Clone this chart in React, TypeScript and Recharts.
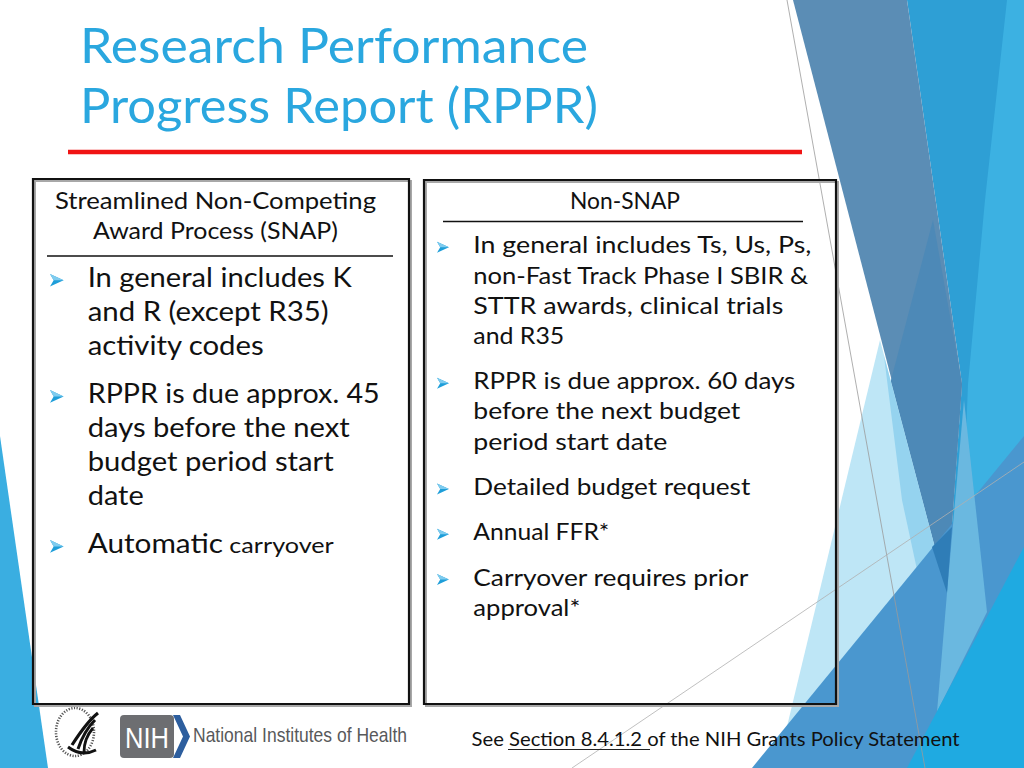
import React from "react";
import { ComposedChart, XAxis, YAxis, ReferenceArea, ReferenceLine, Customized } from "recharts";

// slide text
const TITLE = ["Research Performance", "Progress Report (RPPR)"];
const SNAP_HEAD = ["Streamlined Non-Competing", "Award Process (SNAP)"];
const SNAP_ITEMS = [
  ["In general includes K", "and R (except R35)", "activity codes"],
  ["RPPR is due approx. 45", "days before the next", "budget period start", "date"],
  ["Automatic carryover"],
];
const NON_SNAP_HEAD = ["Non-SNAP"];
const NON_SNAP_ITEMS = [
  ["In general includes Ts, Us, Ps,", "non-Fast Track Phase I SBIR &", "STTR awards, clinical trials", "and R35"],
  ["RPPR is due approx. 60 days", "before the next budget", "period start date"],
  ["Detailed budget request"],
  ["Annual FFR*"],
  ["Carryover requires prior", "approval*"],
];
const FOOTER = ["See ", "Section 8.4.1.2 ", "of the NIH Grants Policy Statement"];
const NIH_NAME = "National Institutes of Health";

// layout (px on the 1024x768 slide)
const W = 1024;
const H = 768;
const FONT = "Lato, 'Open Sans', sans-serif";
const BLUE = "#2AA7DF";
const TITLE_W = [508, 518];
const SNAP_HEAD_W = [321, 245];
const SNAP_W = [[264, 241, 176], [292, 262, 246, 56], [246]];
const NON_W = [[338, 335, 310, 91], [322, 267, 194], [277], [136], [275, 107]];

const poly = (pts: number[][]) => pts.map((p) => p.join(",")).join(" ");

function Decor() {
  return (
    <g>
      <polygon points={poly([[0, 436], [48, 768], [0, 768]])} fill="#3AAEE1" />
      <polygon points={poly([[907, 0], [1024, 0], [1024, 768], [900, 768], [947, 593], [962, 384]])} fill="#2E9FD5" />
      <polygon points={poly([[1007, 0], [1024, 0], [1024, 768], [940, 768], [962, 540], [968, 384], [985, 200]])} fill="#3CB1E2" />
      <polygon points={poly([[793, 0], [907, 0], [962, 384], [947, 593]])} fill="#5B8DB5" />
      <polygon points={poly([[933, 220], [962, 384], [947, 593], [890, 384]])} fill="#4D89B7" />
      <polygon points={poly([[880, 340], [947, 593], [930, 768], [777, 768]])} fill="#BEE6F6" />
      <polygon points={poly([[884, 356], [947, 593], [930, 630], [902, 500]])} fill="#95D3EF" />
      <polygon points={poly([[752, 768], [1024, 436], [1024, 768]])} fill="#4A97CF" />
      <polygon points={poly([[964, 400], [987, 612], [937, 712], [947, 593]])} fill="#6AB8E0" />
      <polygon points={poly([[932, 547], [952, 527], [947, 593]])} fill="#2F7DB7" />
      <polygon points={poly([[907, 768], [1024, 547], [1024, 768]])} fill="#1FAAE1" />
      <line x1={787} y1={0} x2={925} y2={768} stroke="#9A9A9A" strokeWidth={0.8} />
      <line x1={572} y1={768} x2={1024} y2={462} stroke="#B0B0B0" strokeWidth={0.8} />
    </g>
  );
}

function Arrow({ x, y, s }: { x: number; y: number; s: number }) {
  return (
    <g transform={`translate(${x},${y}) scale(${s})`}>
      <polygon points="0,-6 13,0 0,6 3.5,0" fill="#1E9ED9" />
      <polygon points="0,-6 13,0 3.5,0" fill="#7FCCEF" />
    </g>
  );
}

function Slide() {
  const snapLines: React.ReactNode[] = [];
  let y = 287.3;
  SNAP_ITEMS.forEach((item, i) => {
    snapLines.push(<Arrow key={`a${i}`} x={50} y={y - 7} s={1.05} />);
    item.forEach((line, j) => {
      const parts = line.split(/ (?=carryover$)/);
      snapLines.push(
        <text key={`t${i}-${j}`} x={87.7} y={y} fontSize={26} textLength={SNAP_W[i][j]} lengthAdjust="spacingAndGlyphs">
          {parts[0]}
          {parts[1] && <tspan fontSize={22}>{" " + parts[1]}</tspan>}
        </text>
      );
      if (j < item.length - 1) y += 33.9;
    });
    y += 48.3;
  });

  const nonLines: React.ReactNode[] = [];
  y = 253.3;
  NON_SNAP_ITEMS.forEach((item, i) => {
    nonLines.push(<Arrow key={`a${i}`} x={437} y={y - 6} s={0.92} />);
    item.forEach((line, j) => {
      nonLines.push(
        <text key={`t${i}-${j}`} x={473.3} y={y} fontSize={23} textLength={NON_W[i][j]} lengthAdjust="spacingAndGlyphs">
          {line}
        </text>
      );
      if (j < item.length - 1) y += 30.2;
    });
    y += 45.3;
  });

  return (
    <g fontFamily={FONT} fill="#111">
      {TITLE.map((t, i) => (
        <text key={t} x={80} y={63 + i * 60} fontSize={48} fill={BLUE} textLength={TITLE_W[i]} lengthAdjust="spacingAndGlyphs">
          {t}
        </text>
      ))}
      {SNAP_HEAD.map((t, i) => (
        <text key={t} x={215.5} y={209.3 + i * 30} fontSize={23} textAnchor="middle" textLength={SNAP_HEAD_W[i]} lengthAdjust="spacingAndGlyphs">
          {t}
        </text>
      ))}
      {NON_SNAP_HEAD.map((t) => (
        <text key={t} x={625} y={209.3} fontSize={23} textAnchor="middle" textLength={110} lengthAdjust="spacingAndGlyphs">
          {t}
        </text>
      ))}
      {snapLines}
      {nonLines}
      <text x={471.6} y={745.5} fontSize={20} textLength={488} lengthAdjust="spacingAndGlyphs">
        {FOOTER.join("")}
      </text>
      {/* HHS seal */}
      <g>
        <ellipse cx={75} cy={732} rx={19} ry={24} fill="none" stroke="#555" strokeWidth={2.6} strokeDasharray="1.2 1.5" />
        <path d="M98 713 C89 720 81 731 72 745" stroke="#111" strokeWidth={3.2} fill="none" />
        <path d="M95 720 C88 727 82 737 78 749" stroke="#111" strokeWidth={3} fill="none" />
        <path d="M93 728 C87 735 84 743 84 752" stroke="#111" strokeWidth={2.8} fill="none" />
        <path d="M68 747 C76 753 86 755 96 750" stroke="#111" strokeWidth={3} fill="none" />
      </g>
      {/* NIH logo */}
      <rect x={120} y={715} width={54} height={43} rx={4} fill="#6D6E71" />
      <text x={147} y={748} fontSize={30} fontFamily="'Liberation Sans', Arial, sans-serif" fill="#fff" textAnchor="middle" textLength={44} lengthAdjust="spacingAndGlyphs">
        NIH
      </text>
      <polygon points={poly([[173, 715], [180, 715], [190, 736.5], [180, 758], [173, 758], [183, 736.5]])} fill="#2D5E9E" />
      <text x={193} y={742} fontSize={21} fontFamily="'Liberation Sans Narrow', 'Liberation Sans', sans-serif" fill="#58595B" textLength={214} lengthAdjust="spacingAndGlyphs">
        {NIH_NAME}
      </text>
    </g>
  );
}

export default function App() {
  return (
    <div style={{ width: W, height: H, background: "#fff" }}>
      <style>{`body{margin:0;background:#fff}`}</style>
      <ComposedChart width={W} height={H} data={[]} margin={{ top: 0, right: 0, bottom: 0, left: 0 }}>
        <XAxis type="number" dataKey="x" domain={[0, W]} hide allowDataOverflow />
        <YAxis type="number" domain={[0, H]} reversed hide allowDataOverflow />
        <Customized component={<Decor />} />
        {/* box shadows */}
        <ReferenceArea x1={35} x2={411} y1={181} y2={706} fill="none" stroke="#A8A8A8" strokeWidth={2} ifOverflow="visible" />
        <ReferenceArea x1={426} x2={838} y1={182} y2={706} fill="none" stroke="#A8A8A8" strokeWidth={2} ifOverflow="visible" />
        <ReferenceArea x1={33} x2={409} y1={179} y2={704} fill="none" fillOpacity={0} stroke="#111" strokeWidth={2.2} ifOverflow="visible" />
        <ReferenceArea x1={424} x2={836} y1={180} y2={704} fill="none" fillOpacity={0} stroke="#111" strokeWidth={2.2} ifOverflow="visible" />
        <ReferenceLine segment={[{ x: 68, y: 152 }, { x: 802, y: 152 }]} stroke="#F01414" strokeWidth={4.5} ifOverflow="visible" />
        <ReferenceLine segment={[{ x: 47, y: 256 }, { x: 393, y: 256 }]} stroke="#111" strokeWidth={1.6} ifOverflow="visible" />
        <ReferenceLine segment={[{ x: 443, y: 221.5 }, { x: 803, y: 221.5 }]} stroke="#111" strokeWidth={1.6} ifOverflow="visible" />
        <ReferenceLine segment={[{ x: 508, y: 749.5 }, { x: 650, y: 749.5 }]} stroke="#222" strokeWidth={1.2} ifOverflow="visible" />
        <Customized component={<Slide />} />
      </ComposedChart>
    </div>
  );
}
